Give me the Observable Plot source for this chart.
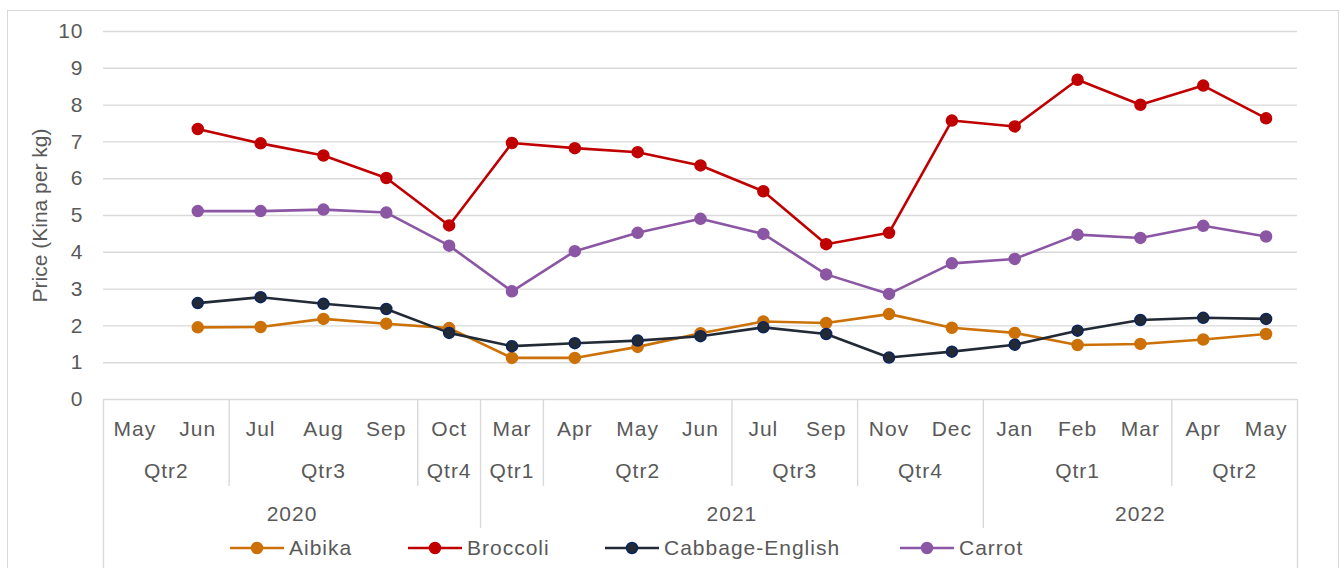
<!DOCTYPE html>
<html>
<head>
<meta charset="utf-8">
<script src="https://cdn.jsdelivr.net/npm/d3@7"></script>
<script src="https://cdn.jsdelivr.net/npm/@observablehq/plot@0.6"></script>
<style>
  html, body { margin: 0; padding: 0; background: #fff; }
  #wrap { position: relative; width: 1341px; height: 568px; overflow: hidden; font-family: "Liberation Sans", Arial, sans-serif; }
  #border { position: absolute; left: 7px; top: 10px; width: 1332px; height: 600px; border: 1px solid #d9d9d9; box-sizing: border-box; pointer-events: none; }
  .leg { position: absolute; top: 536px; height: 24px; display: flex; align-items: center; font-size: 21px; letter-spacing: 1px; color: #595959; white-space: nowrap; }
  .leg svg { margin-right: 5px; }
</style>
</head>
<body>
<div id="wrap">
  <div id="chart"></div>
  <div id="border"></div>
  <div id="legend"></div>
</div>
<script>
// ---- data ----
const months   = ["May","Jun","Jul","Aug","Sep","Oct","Mar","Apr","May","Jun","Jul","Sep","Nov","Dec","Jan","Feb","Mar","Apr","May"];
const quarters = ["Qtr2","Qtr2","Qtr3","Qtr3","Qtr3","Qtr4","Qtr1","Qtr2","Qtr2","Qtr2","Qtr3","Qtr3","Qtr4","Qtr4","Qtr1","Qtr1","Qtr1","Qtr2","Qtr2"];
const years    = ["2020","2020","2020","2020","2020","2020","2021","2021","2021","2021","2021","2021","2021","2021","2022","2022","2022","2022","2022"];

const aibika   = [null,1.96,1.97,2.19,2.06,1.94,1.13,1.13,1.43,1.80,2.12,2.08,2.32,1.95,1.81,1.48,1.51,1.63,1.78];
const broccoli = [null,7.35,6.96,6.63,6.02,4.73,6.97,6.83,6.72,6.36,5.66,4.22,4.53,7.58,7.42,8.69,8.01,8.53,7.64];
const cabbage  = [null,2.62,2.78,2.60,2.46,1.81,1.45,1.53,1.60,1.72,1.96,1.78,1.14,1.30,1.49,1.87,2.16,2.22,2.19];
const carrot   = [null,5.12,5.12,5.16,5.08,4.18,2.94,4.03,4.53,4.91,4.50,3.40,2.87,3.70,3.82,4.48,4.39,4.72,4.43];

const seriesNames = ["Aibika","Broccoli","Cabbage-English","Carrot"];
const seriesValues = [aibika, broccoli, cabbage, carrot];
const seriesColors = ["#CC7107","#C00000","#222A35","#8B56A4"];
const markerEdges  = ["#CC7107","#C00000","#0B2460","#8B56A4"];

const yTicks = [0,1,2,3,4,5,6,7,8,9,10];
const yLabel = "Price (Kina per kg)";

// ---- derived ----
function groups(keys) {
  // consecutive runs of equal keys (quarters restart in each year)
  const out = [];
  keys.forEach((k, i) => {
    const id = k + "|" + years[i];
    const last = out[out.length - 1];
    if (last && last.id === id) last.end = i;
    else out.push({id, label: k, start: i, end: i});
  });
  return out.map(g => ({...g, mid: (g.start + g.end) / 2}));
}
const qGroups = groups(quarters);
const yGroups = groups(years);
const yearEdges = yGroups.slice(1).map(g => g.start - 0.5);
const qEdges = qGroups.slice(1).map(g => g.start - 0.5).filter(e => !yearEdges.includes(e));
const outerEdges = [-0.5, months.length - 0.5];

const gridColor = "#d9d9d9";
const textColor = "#595959";

const seriesMarks = seriesNames.flatMap((name, s) => {
  const rows = seriesValues[s].map((v, i) => ({i, v})).filter(d => d.v != null);
  return [
    Plot.line(rows, {x: "i", y: "v", stroke: seriesColors[s], strokeWidth: 2.6}),
    Plot.dot(rows, {x: "i", y: "v", r: 5.5, fill: seriesColors[s], stroke: markerEdges[s], strokeWidth: 1.5})
  ];
});

const chart = Plot.plot({
  width: 1341,
  height: 568,
  marginLeft: 103,
  marginRight: 44,
  marginTop: 31,
  marginBottom: 169,
  style: {fontFamily: "'Liberation Sans', Arial, sans-serif", fontSize: "21px", letterSpacing: "1px", color: textColor, background: "transparent", overflow: "visible"},
  x: {type: "linear", domain: [-0.5, months.length - 0.5]},
  y: {domain: [0, 10]},
  marks: [
    Plot.gridY(yTicks, {stroke: gridColor, strokeOpacity: 1, strokeWidth: 1.4}),
    Plot.axisY(yTicks, {tickSize: 0, tickPadding: 20, fontSize: 21, fill: textColor, label: null}),
    Plot.axisX(d3.range(months.length), {tickSize: 0, tickPadding: 22, fontSize: 21, fill: textColor, label: null, tickFormat: i => months[i]}),
    Plot.text(qGroups, {x: "mid", text: "label", frameAnchor: "bottom", dy: 72, lineAnchor: "middle", fontSize: 21, fill: textColor}),
    Plot.text(yGroups, {x: "mid", text: "label", frameAnchor: "bottom", dy: 115, lineAnchor: "middle", fontSize: 21, fill: textColor}),
    Plot.ruleX(qEdges, {stroke: gridColor, strokeWidth: 1.4, insetTop: 368, insetBottom: -87}),
    Plot.ruleX(yearEdges, {stroke: gridColor, strokeWidth: 1.4, insetTop: 368, insetBottom: -129}),
    Plot.ruleX(outerEdges, {stroke: gridColor, strokeWidth: 1.4, insetTop: 368, insetBottom: -200}),
    Plot.text([yLabel], {frameAnchor: "left", rotate: -90, dx: -63, textAnchor: "middle", fontSize: 21, fill: textColor}),
    ...seriesMarks
  ]
});
// the rotated axis title is not stretched horizontally in the reference
d3.select(chart).selectAll("text").filter(function () { return this.textContent === yLabel; }).style("letter-spacing", "0px");
document.getElementById("chart").appendChild(chart);

// ---- legend (HTML, below/over the axis area) ----
const legendLefts = [230, 408, 605, 900];
const legend = document.getElementById("legend");
seriesNames.forEach((name, s) => {
  const item = document.createElement("div");
  item.className = "leg";
  item.style.left = legendLefts[s] + "px";
  item.innerHTML =
    `<svg width="54" height="14"><line x1="0" x2="54" y1="7" y2="7" stroke="${seriesColors[s]}" stroke-width="2.6"/>` +
    `<circle cx="27" cy="7" r="5.5" fill="${seriesColors[s]}" stroke="${markerEdges[s]}" stroke-width="1.5"/></svg>` +
    `<span>${name}</span>`;
  legend.appendChild(item);
});
</script>
</body>
</html>
